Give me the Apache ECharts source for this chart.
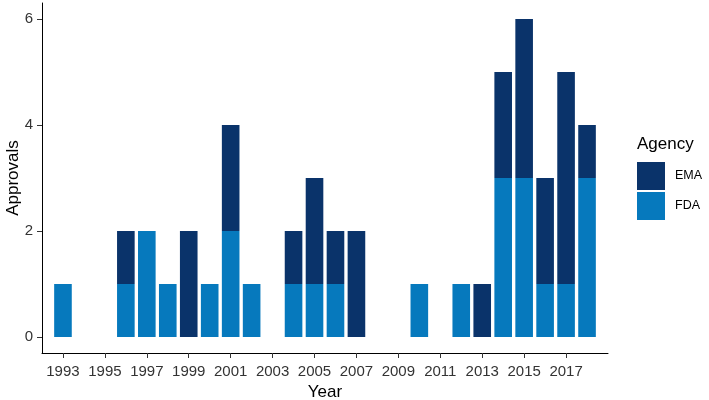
<!DOCTYPE html>
<html>
<head>
<meta charset="utf-8">
<script src="https://cdn.jsdelivr.net/npm/echarts@6/dist/echarts.min.js"></script>
<style>html,body{margin:0;padding:0;background:#fff}#c{width:709px;height:400px}</style>
</head>
<body>
<div id="c"></div>
<script>
var years = [1993,1994,1995,1996,1997,1998,1999,2000,2001,2002,2003,2004,2005,2006,2007,2008,2009,2010,2011,2012,2013,2014,2015,2016,2017,2018];
var fda   = [1,0,0,1,2,1,0,1,2,1,0,1,1,1,0,0,0,1,0,1,0,3,3,1,1,3];
var ema   = [0,0,0,1,0,0,2,0,2,0,0,1,2,1,2,0,0,0,0,0,1,2,3,2,4,1];
var xTicks = [1993,1995,1997,1999,2001,2003,2005,2007,2009,2011,2013,2015,2017];
var yTicks = [0,2,4,6];

// pad one empty category on each side so the axis extends past the data
var cats = [String(years[0]-1)].concat(years.map(String), [String(years[years.length-1]+1)]);
function padded(vals){
  return [null].concat(vals.map(function(v){ return v === 0 ? null : v; }), [null]);
}
function isTick(idx, val){ return xTicks.indexOf(+val) >= 0; }

var chart = echarts.init(document.getElementById('c'), null, {renderer:'canvas'});
var axisFont = {fontFamily:'Liberation Sans', fontSize:15, color:'#333'};
chart.setOption({
  animation:false,
  backgroundColor:'#fff',
  grid:{left:42, right:101, top:3, bottom:47, containLabel:false, outerBoundsMode:'none'},
  xAxis:{
    type:'category', data:cats, boundaryGap:false,
    name:'Year', nameLocation:'middle', nameGap:31,
    nameTextStyle:{fontFamily:'Liberation Sans', fontSize:17, color:'#000'},
    axisLine:{show:true, onZero:false, lineStyle:{color:'#000', width:1}},
    axisTick:{show:true, length:5, interval:isTick, lineStyle:{color:'#333'}},
    axisLabel:Object.assign({interval:isTick, margin:11}, axisFont),
    splitLine:{show:false}
  },
  yAxis:{
    type:'value', min:-0.3, max:6.3,
    name:'Approvals', nameLocation:'middle', nameGap:20, nameMoveOverlap:false,
    nameTextStyle:{fontFamily:'Liberation Sans', fontSize:17, color:'#000'},
    axisLine:{show:true, onZero:false, lineStyle:{color:'#000', width:1}},
    axisTick:{show:true, length:5, customValues:yTicks, lineStyle:{color:'#333'}},
    axisLabel:Object.assign({customValues:yTicks, margin:9}, axisFont),
    splitLine:{show:false}
  },
  legend:{
    orient:'vertical', left:637, top:162, padding:0, itemWidth:28, itemHeight:28, itemGap:2,
    icon:'rect', data:['EMA','FDA'],
    textStyle:{fontFamily:'Liberation Sans', fontSize:12.5, color:'#000', padding:[0,0,0,5]}
  },
  graphic:[{
    type:'text', left:637, top:136,
    style:{text:'Agency', fontFamily:'Liberation Sans', fontSize:17, fill:'#000'}
  }],
  series:[
    {name:'FDA', type:'bar', stack:'a', barWidth:'84%', data:padded(fda),
     itemStyle:{color:'#0679bd'}},
    {name:'EMA', type:'bar', stack:'a', barWidth:'84%', data:padded(ema),
     itemStyle:{color:'#0a336a'}}
  ]
});
</script>
</body>
</html>
